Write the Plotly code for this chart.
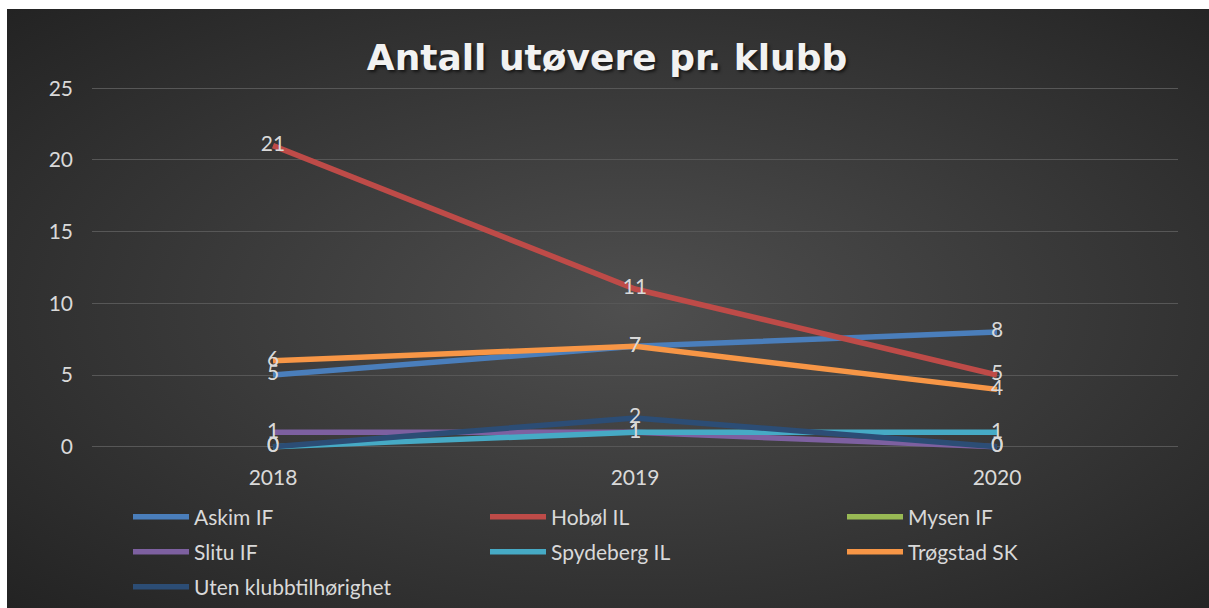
import base64
import plotly.graph_objects as go

years = ["2018", "2019", "2020"]
clubs = ["Askim IF", "Hobøl IL", "Mysen IF", "Slitu IF", "Spydeberg IL", "Trøgstad SK", "Uten klubbtilhørighet"]
askim = [5, 7, 8]
hobol = [21, 11, 5]
mysen = [None, None, None]
slitu = [1, 1, 0]
spydeberg = [0, 1, 1]
trogstad = [6, 7, 4]
uten = [0, 2, 0]
series = [askim, hobol, mysen, slitu, spydeberg, trogstad, uten]
colors = ["#4a7ebb", "#be4b48", "#98b954", "#7d60a0", "#46aac5", "#f79646", "#2c4d75"]
legend_ids = ["legend", "legend", "legend", "legend2", "legend2", "legend2", "legend3"]
y_ticks = [0, 5, 10, 15, 20, 25]

W, H = 1209, 608
ML, MR, MT, MB = 92, 31, 84, 157
PW, PH = W - ML - MR, H - MT - MB

FONT = "Lato"
TXT = "#d9d9d9"

fig = go.Figure()
for i, (name, vals, col, lg) in enumerate(zip(clubs, series, colors, legend_ids)):
    fig.add_trace(go.Scatter(
        x=years, y=vals, name=name, mode="lines+text",
        line=dict(color=col, width=5.5),
        text=[("" if v is None else str(v)) for v in vals],
        textposition="middle center",
        textfont=dict(family=FONT, size=21, color=TXT),
        cliponaxis=False, legend=lg,
        legendwidth=(150 if i % 3 == 2 else None),
    ))

svg = ('<svg xmlns="http://www.w3.org/2000/svg" width="1202" height="599" viewBox="0 0 1202 599" '
       'preserveAspectRatio="none"><defs><radialGradient id="g" cx="52%" cy="50%" r="72%">'
       '<stop offset="0" stop-color="#4f4f4f"/><stop offset="1" stop-color="#232323"/>'
       '</radialGradient></defs><rect width="1202" height="599" fill="url(#g)"/></svg>')
src = "data:image/svg+xml;base64," + base64.b64encode(svg.encode()).decode()

def py(px):
    return (H - MB - px) / PH

def px_(x):
    return (x - ML) / PW

leg_common = dict(orientation="h", xanchor="left", yanchor="middle",
                  xref="container", yref="container",
                  font=dict(family=FONT, size=21, color=TXT),
                  bgcolor="rgba(0,0,0,0)", entrywidth=286, entrywidthmode="pixels",
                  itemwidth=56, traceorder="normal")

LEG_OFF = 0
fig.update_layout(
    width=W, height=H, autosize=False,
    margin=dict(l=ML, r=MR, t=MT, b=MB, pad=0),
    paper_bgcolor="white", plot_bgcolor="rgba(0,0,0,0)",
    images=[dict(source=src, xref="paper", yref="paper", x=px_(7), y=py(9),
                 sizex=(W - 7) / PW, sizey=(H - 9) / PH, xanchor="left", yanchor="top",
                 sizing="stretch", layer="below")],
    title=dict(text="<b>Antall utøvere pr. klubb</b>", x=607 / W, xref="container",
               y=1 - 57 / H, yref="container", xanchor="center", yanchor="middle",
               font=dict(family="DejaVu Sans", size=36, color="#f2f2f2",
                         shadow="2px 2px 3px rgba(0,0,0,0.6)")),
    xaxis=dict(type="category", range=[-0.5, 2.5], showgrid=False, zeroline=False,
               showline=False, ticks="", ticklabelstandoff=12, automargin=False,
               tickfont=dict(family=FONT, size=21, color=TXT)),
    yaxis=dict(range=[-0.3, 25.3], tickvals=y_ticks, showgrid=True, gridcolor="#575757",
               gridwidth=1, zeroline=False, showline=False, ticks="", ticklabelstandoff=18,
               automargin=False, tickfont=dict(family=FONT, size=21, color=TXT)),
    legend=dict(x=128 / W, y=1 - (517 + LEG_OFF) / H, **leg_common),
    legend2=dict(x=128 / W, y=1 - (552 + LEG_OFF) / H, **leg_common),
    legend3=dict(x=128 / W, y=1 - (587 + LEG_OFF) / H, **leg_common),
    showlegend=True,
)

fig.write_html("out.html", config={"responsive": False, "displayModeBar": False},
               post_script="document.body.style.margin='0px';")
